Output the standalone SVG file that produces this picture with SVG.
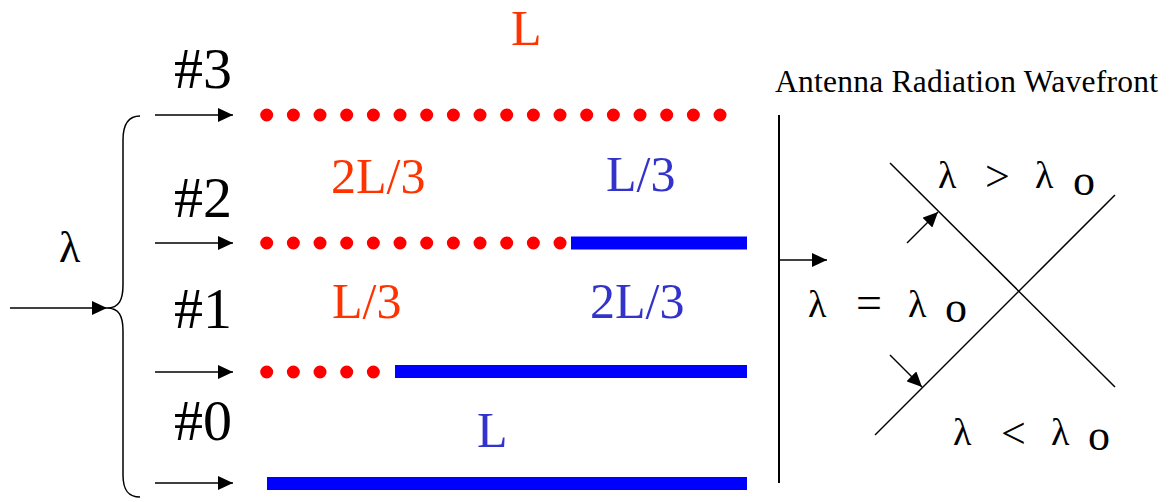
<svg xmlns="http://www.w3.org/2000/svg" width="1174" height="502" viewBox="0 0 1174 502">
<style>
.t{font-family:"Liberation Serif","Times New Roman",serif;}
.blk{fill:#000;}
.red{fill:#FF3300;}
.blu{fill:#3333CC;}
.ln{stroke:#000;stroke-width:1.5;fill:none;}
.dots{stroke:#FF0000;stroke-width:13;stroke-linecap:round;stroke-dasharray:0 26.667;fill:none;}
.bar{stroke:#0000FF;stroke-width:13;fill:none;}
</style>
<defs>
<marker id="ah" markerWidth="16" markerHeight="14" refX="15" refY="7" orient="auto" markerUnits="userSpaceOnUse">
<path d="M0,0 L15,7 L0,14 Z" fill="#000"/>
</marker>
</defs>
<rect width="1174" height="502" fill="#fff"/>

<g id="input">
<text class="t blk" x="59" y="262" font-size="44">λ</text>
</g>

<g id="brace">
<path class="ln" d="M140,116 C128,116 123,125 123,140 L123,285 C123,300 119,308 107,308 C119,308 123,316 123,331 L123,475 C123,490 128,497 140,497"/>
</g>

<g id="branch3">
<text class="t blk" x="174" y="88" font-size="58">#3</text>
<text class="t red" x="511" y="45" font-size="50">L</text>
<line class="dots" x1="266.7" y1="115" x2="721" y2="115"/>
</g>

<g id="branch2">
<text class="t blk" x="174" y="217" font-size="58">#2</text>
<text class="t red" x="331" y="193" font-size="50">2L/3</text>
<text class="t blu" x="606" y="191" font-size="50">L/3</text>
<line class="dots" x1="266.7" y1="243" x2="561" y2="243"/>
<line class="bar" x1="571" y1="243" x2="747" y2="243"/>
</g>

<g id="branch1">
<text class="t blk" x="174" y="328" font-size="58">#1</text>
<text class="t red" x="332" y="318" font-size="50">L/3</text>
<text class="t blu" x="590" y="318" font-size="50">2L/3</text>
<line class="dots" x1="266.7" y1="372" x2="374" y2="372"/>
<line class="bar" x1="395" y1="371.5" x2="747" y2="371.5"/>
</g>

<g id="branch0">
<text class="t blk" x="174" y="440" font-size="58">#0</text>
<text class="t blu" x="477" y="447" font-size="50">L</text>
<line class="bar" x1="267" y1="483.5" x2="747" y2="483.5"/>
</g>

<g id="wavefront">
<text class="t blk" x="775" y="92" font-size="31.5" textLength="383">Antenna Radiation Wavefront</text>
<line x1="779" y1="115" x2="779" y2="483" stroke="#000" stroke-width="2"/>
<line class="ln" x1="890" y1="163" x2="1115" y2="387"/>
<line class="ln" x1="875" y1="435" x2="1115" y2="195"/>
<text class="t blk" x="938" y="188" font-size="38">λ</text>
<text class="t blk" x="985" y="191" font-size="44">&gt;</text>
<text class="t blk" x="1035" y="188" font-size="38">λ</text>
<text class="t blk" x="1073" y="195" font-size="44">o</text>
<text class="t blk" x="808" y="317" font-size="38">λ</text>
<text class="t blk" x="856" y="318" font-size="46">=</text>
<text class="t blk" x="908" y="317" font-size="38">λ</text>
<text class="t blk" x="945" y="322" font-size="44">o</text>
<text class="t blk" x="953" y="445" font-size="38">λ</text>
<text class="t blk" x="1001" y="448" font-size="44">&lt;</text>
<text class="t blk" x="1051" y="445" font-size="38">λ</text>
<text class="t blk" x="1088" y="450" font-size="44">o</text>
</g>

<g id="connectors">
<line class="ln" x1="10" y1="308" x2="107" y2="308" marker-end="url(#ah)"/>
<line class="ln" x1="155" y1="115" x2="233" y2="115" marker-end="url(#ah)"/>
<line class="ln" x1="155" y1="243" x2="233" y2="243" marker-end="url(#ah)"/>
<line class="ln" x1="155" y1="372" x2="233" y2="372" marker-end="url(#ah)"/>
<line class="ln" x1="155" y1="483" x2="233" y2="483" marker-end="url(#ah)"/>
<line class="ln" x1="779" y1="260" x2="827" y2="260" marker-end="url(#ah)"/>
<line class="ln" x1="907" y1="243" x2="938" y2="212" marker-end="url(#ah)"/>
<line class="ln" x1="890" y1="355" x2="922" y2="387" marker-end="url(#ah)"/>
</g>
</svg>
